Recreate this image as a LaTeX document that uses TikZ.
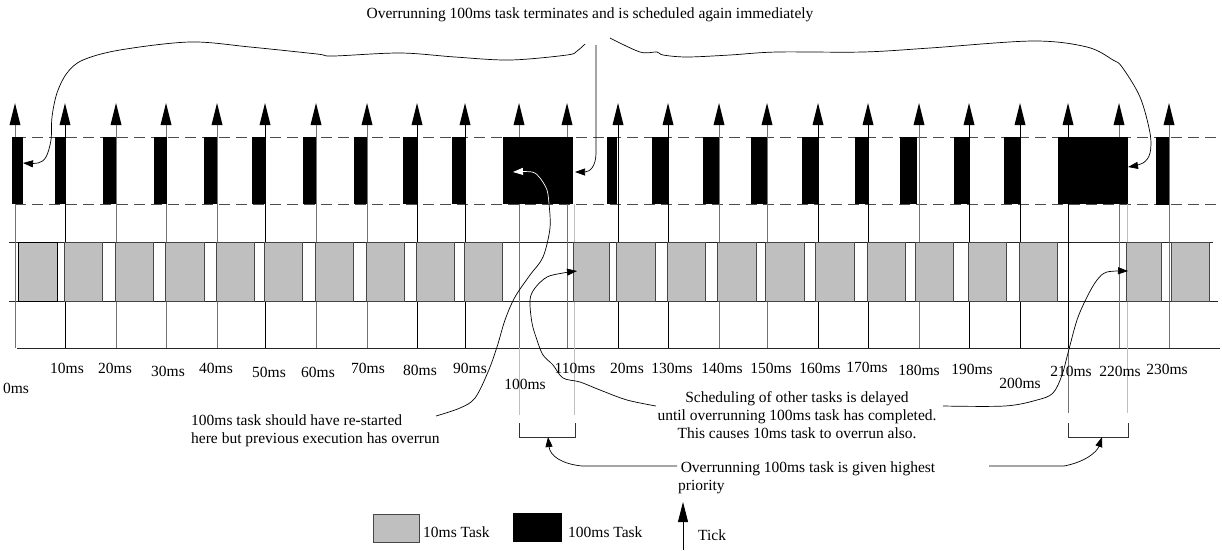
\documentclass[tikz,border=0pt]{standalone}
\usepackage{fontspec}
\setmainfont{Liberation Serif}
\usetikzlibrary{arrows.meta}
\begin{document}
\begin{tikzpicture}[x=1pt,y=-1pt,
  lbl/.style={font=\fontsize{15.5}{18}\selectfont, inner sep=0pt},
  tk/.style={draw=black, line width=0.8pt},
  tg/.style={draw=black!55, line width=1pt},
  lg/.style={draw=black!25, line width=1pt},
  dashline/.style={draw=black!70, line width=0.8pt, dash pattern=on 11pt off 6pt},
  hline/.style={draw=black!85, line width=0.8pt},
  tenbox/.style={fill=black!25, draw=black!72, line width=1pt},
  hundbar/.style={fill=black},
  ann/.style={draw=black, line width=0.7pt, -{Triangle[length=10pt,width=7pt]}},
  annw/.style={draw=white, line width=0.7pt, -{Triangle[length=10pt,width=7pt,fill=white]}},
  brk/.style={draw=black!80, line width=0.8pt}]
\useasboundingbox (0,0) rectangle (1222,550);

% horizontal lines
\draw[hline] (9,242) -- (1213,242);
\draw[hline] (9,301) -- (1218,301);
\draw[hline] (17,348) -- (1220,348);
\draw[dashline] (15,137) -- (1216,137);
\draw[dashline] (15,204) -- (1216,204);

% tick lines
\foreach \x/\c in {15/tg,65/tk,116/tg,166/tg,217/tg,265/tk,316/tg,367/tg,417/tk,465/tk,519/tg,567/tg,618/tk,668/tk,719/tg,767/tg,818/tk,868/tk,919/tg,969/tk,1020/tk,1068/tk,1119/tg,1169/tg}
  \draw[\c] (\x,125) -- (\x,348);

% extra light gray guide lines
\draw[lg] (519,348) -- (519,415);
\draw[lg] (574,204) -- (574,415);
\draw[tg, line width=0.8pt] (1068,348) -- (1068,413);
\draw[lg] (1127,204) -- (1127,413);

% 100ms task bars
\foreach \a/\b in {12/23,55/65,103/116,154/167,204/217,252/265,303/316,354/367,403/418,452/465,503/573,607/617,652/668,703/719,751/767,802/818,855/869,900/917,954/969,1004/1020,1058/1128}
  \fill[hundbar] (\a,137) rectangle (\b,204);
\fill[hundbar] (1156,137) rectangle (1169,205);

% 10ms task boxes
\draw[tenbox, draw=black] (18,242) rectangle (57,301);
\foreach \a/\b in {64/102,115/153,165/204,216/254,264/302,315/353,366/404,416/454,464/502,573/609,616/655,667/705,717/756,765/804,815/854,867/905,915/953,968/1006,1019/1057,1126/1161,1171/1209}
  \draw[tenbox] (\a,242) rectangle (\b,301);

% tick arrow heads
\foreach \x in {15,65,116,166,217,265,316,367,417,465,519,567,618,668,719,767,818,868,919,969,1020,1068,1119,1169}
  \fill (\x-5.5,125) -- (\x+5.5,125) -- (\x,103) -- cycle;

% time labels
\foreach \x/\y/\t in {16/388/0ms,67/368/10ms,115/368/20ms,168/371/30ms,216/368/40ms,269/372/50ms,318/372/60ms,368/368/70ms,420/370/80ms,470/368/90ms,525/384/100ms,575/368/110ms,627/368/20ms,672/368/130ms,722/368/140ms,771/368/150ms,820/368/160ms,867/367/170ms,919/370/180ms,972/369/190ms,1020/383/200ms,1071/371/210ms,1120/371/220ms,1167/369/230ms}
  \node[lbl] (t\t) at (\x,\y) {\t};

% brackets
\draw[brk] (519,423) -- (519,437) -- (575,437) -- (575,423);
\draw[brk] (1068,423) -- (1068,437) -- (1128,437) -- (1128,423);

% title annotation
\node[lbl] (title) at (590,15) {Overrunning 100ms task terminates and is scheduled again immediately};
\coordinate (tl) at (596,45);
\coordinate (tA) at (575,172);
\draw[ann] (tl) -- (596,153) .. controls (596,166) and (590,172) .. (tA);
\coordinate (lb0) at (585,44);
\coordinate (lb1) at (23,163);
\draw[ann] plot[smooth, tension=0.55] coordinates {(lb0) (577,51) (567,55) (510,60) (455,57) (400,53) (333,56) (317,54) (250,47) (190,42) (120,50) (83,60) (67,73) (57,93) (52,117) (51,140) (46,157) (38,163) (lb1)};
\coordinate (rb0) at (610,38);
\coordinate (rb1) at (1128,167);
\draw[ann] plot[smooth, tension=0.55] coordinates {(rb0) (640,52) (657,52) (663,55) (687,57) (730,55) (777,52) (863,52) (930,48) (1033,41) (1087,47) (1113,60) (1122,67) (1140,97) (1150,133) (1150,153) (1143,163) (rb1)};

% restart annotation
\node[lbl, align=left, anchor=west] (restart) at (191,431) {100ms task should have re-started\\here but previous execution has overrun};
\coordinate (rs0) at (436,416);
\coordinate (rsm) at (549,204);
\coordinate (rs1) at (513,172);
\draw[draw=black, line width=0.7pt] plot[smooth, tension=0.55] coordinates {(rs0) (460,408) (475,398) (488,372) (497,347) (505,320) (515,297) (530,275) (543,257) (550,228) (rsm)};
\draw[annw] plot[smooth, tension=0.55] coordinates {(rsm) (547,190) (540,178) (532,172) (rs1)};

% scheduling annotation
\node[lbl, align=center] (sched) at (797,415) {Scheduling of other tasks is delayed\\until overrunning 100ms task has completed.\\This causes 10ms task to overrun also.};
\coordinate (sl0) at (656,406);
\coordinate (sl1) at (577,271);
\draw[ann] plot[smooth, tension=0.55] coordinates {(sl0) (627,400) (600,390) (580,382) (563,378) (553,365) (543,355) (537,340) (532,323) (530,300) (535,288) (547,277) (563,273) (sl1)};
\coordinate (sr0) at (943,406);
\coordinate (sr1) at (1128,271);
\draw[ann] plot[smooth, tension=0.55] coordinates {(sr0) (1005,406) (1037,400) (1053,393) (1062,375) (1068,353) (1077,320) (1087,297) (1097,280) (1107,272) (sr1)};

% priority annotation
\node[lbl, align=left, anchor=west] (prio) at (678,478) {\,Overrunning 100ms task is given highest\\priority};
\coordinate (pl0) at (677,466);
\coordinate (pl1) at (548,437);
\draw[ann] (pl0) -- (582,466) .. controls (562,464) and (550,456) .. (pl1);
\coordinate (pr0) at (989,466);
\coordinate (pr1) at (1102,437);
\draw[ann] (pr0) -- (1064,466) .. controls (1085,462) and (1097,452) .. (pr1);

% legend
\draw[tenbox] (373,514) rectangle (419,542);
\node[lbl, anchor=west] (l10) at (423,532) {10ms Task};
\fill[hundbar] (513,513) rectangle (562,542);
\node[lbl, anchor=west] (l100) at (568,532) {100ms Task};
\coordinate (tk0) at (683,550);
\coordinate (tk1) at (683,502);
\draw[draw=black, line width=0.8pt, -{Triangle[length=20pt,width=10pt]}] (tk0) -- (tk1);
\node[lbl, anchor=west] (ltick) at (698,535) {Tick};
\end{tikzpicture}
\end{document}
